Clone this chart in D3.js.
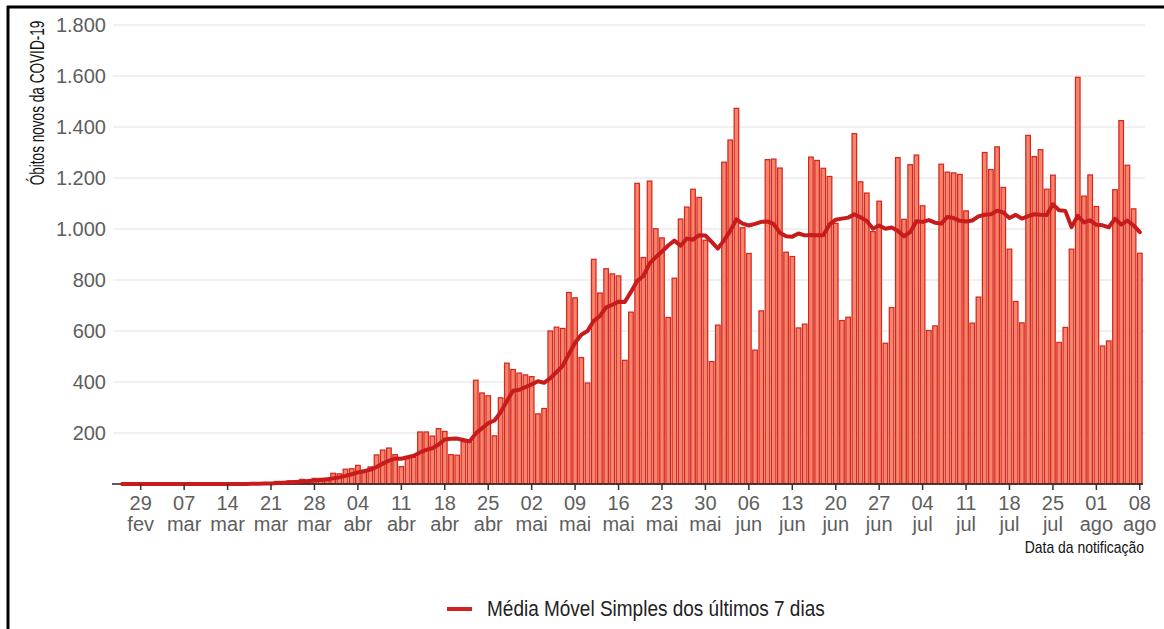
<!DOCTYPE html>
<html>
<head>
<meta charset="utf-8">
<script src="https://cdn.jsdelivr.net/npm/d3@7"></script>
<style>
  html, body { margin: 0; padding: 0; background: #fff; }
  svg { display: block; }
  text { font-family: "Liberation Sans", Arial, sans-serif; }
</style>
</head>
<body>
<svg id="chart" width="1164" height="629"></svg>
<script>
// ---------------- DATA ----------------
const firstDay = "2020-02-26";
const lastDay = "2020-08-08";

// Daily new deaths (Feb 26 .. Aug 8)
const deaths = [
  0,0,0,0, 0,0,0,0,0,0,0,0,0,0,0,0,0,0,0,0,
  1,3,2,5,4,10,9,12,13,18,15,22,22,23,42,
  40,58,60,73,54,67,114,133,141,115,68,99,105,204,204,188,217,206,115,113,166,165,407,357,346,189,338,474,449,435,
  428,421,275,296,600,615,610,751,730,496,396,881,749,844,824,816,485,674,1179,888,1188,1001,965,653,807,1039,1086,1156,1124,956,480,
  623,1262,1349,1473,1005,904,525,679,1272,1274,1239,909,892,612,627,1282,1269,1238,1206,1022,641,654,1374,1185,1141,990,1109,552,692,1280,
  1038,1252,1290,1091,602,620,1254,1223,1220,1214,1071,631,733,1300,1233,1322,1163,921,716,632,1367,1284,1311,1156,1211,555,614,921,1595,1129,1212,
  1088,541,561,1154,1425,1250,1079,905
];

// 7-day simple moving average (Feb 26 .. Aug 8)
const movingAvg = [
  0,0,0,0, 0,0,0,0,0,0,0,0,0,0,0,0,0,0,0,0,
  0.1,0.6,0.9,1.6,2.1,3.6,4.9,6.4,7.9,10.1,11.6,14.1,15.9,17.9,22.1,
  26,31.7,38.1,45.4,50,56.3,66.6,79.9,91.7,99.6,98.9,105.3,110.7,123.6,133.7,140.4,155,174.7,177,178.1,172.7,167.1,198.4,218.4,238.4,249,281.1,325.1,365.7,369.7,
  379.9,390.6,402.9,396.9,414.9,438.6,463.6,509.7,553.9,585.4,599.7,639.9,659,692.4,702.9,715.1,713.6,753.3,795.9,815.7,864.9,890.1,911.4,935.4,954.4,934.4,962.7,958.1,975.7,974.4,949.7,
  923.4,955.3,992.9,1038.1,1021.1,1013.7,1020.1,1028.1,1029.6,1018.9,985.4,971.7,970,982.4,975,976.4,975.7,975.6,1018,1036.6,1040.7,1044.6,1057.7,1045.7,1031.9,1001,1013.4,1000.7,1006.1,992.7,
  971.7,987.6,1030.4,1027.9,1035,1024.7,1021,1047.4,1042.9,1032,1029.1,1033.3,1049.4,1056,1057.4,1072,1064.7,1043.3,1055.4,1041,1050.6,1057.9,1056.3,1055.3,1096.7,1073.7,1071.1,1007.4,1051.9,1025.9,1033.9,
  1016.3,1014.3,1006.7,1040,1017.4,1032.9,1013.9,987.7
];

const tickDates = ["2020-02-29","2020-03-07","2020-03-14","2020-03-21","2020-03-28","2020-04-04","2020-04-11","2020-04-18","2020-04-25","2020-05-02","2020-05-09","2020-05-16","2020-05-23","2020-05-30","2020-06-06","2020-06-13","2020-06-20","2020-06-27","2020-07-04","2020-07-11","2020-07-18","2020-07-25","2020-08-01","2020-08-08"];
const tickDays = ["29","07","14","21","28","04","11","18","25","02","09","16","23","30","06","13","20","27","04","11","18","25","01","08"];
const tickMonths = ["fev","mar","mar","mar","mar","abr","abr","abr","abr","mai","mai","mai","mai","mai","jun","jun","jun","jun","jul","jul","jul","jul","ago","ago"];
const yTicks = [200,400,600,800,1000,1200,1400,1600,1800];

const yTitle = "Óbitos novos da COVID-19";
const xTitle = "Data da notificação";
const legendLabel = "Média Móvel Simples dos últimos 7 dias";

// ---------------- CHART ----------------
const parse = d3.utcParse("%Y-%m-%d");
const fmtKey = d3.utcFormat("%Y-%m-%d");
const days = d3.utcDay.range(parse(firstDay), d3.utcDay.offset(parse(lastDay), 1)).map(fmtKey);
const rows = days.map((d, i) => ({ day: d, deaths: deaths[i], ma: movingAvg[i] }));

const svg = d3.select("#chart");
const W = 1164, H = 629;

const x = d3.scaleBand().domain(days).range([119.3, 1142.6]).paddingInner(0.1).paddingOuter(0);
const y = d3.scaleLinear().domain([0, 1800]).range([484, 25]);

const ptBr = d3.formatLocale({ decimal: ",", thousands: ".", grouping: [3], currency: ["R$", ""] });
const fmtY = ptBr.format(",d");

// frame
svg.append("line").attr("x1", 7).attr("x2", W).attr("y1", 7).attr("y2", 7)
  .attr("stroke", "#000").attr("stroke-width", 3);
svg.append("line").attr("x1", 8).attr("x2", 8).attr("y1", 6).attr("y2", H)
  .attr("stroke", "#000").attr("stroke-width", 3);

// gridlines
svg.append("g").selectAll("line").data(yTicks).join("line")
  .attr("x1", 113).attr("x2", 1145)
  .attr("y1", d => y(d)).attr("y2", d => y(d))
  .attr("stroke", "#ebebeb").attr("stroke-width", 1.3);

// bars
svg.append("g").selectAll("rect").data(rows).join("rect")
  .attr("x", d => x(d.day) + 0.5)
  .attr("width", x.bandwidth() - 1)
  .attr("y", d => y(d.deaths))
  .attr("height", d => y(0) - y(d.deaths))
  .attr("fill", "#f4856b")
  .attr("stroke", "#d8261f")
  .attr("stroke-width", 1.25);

// y axis
const yAxis = svg.append("g").attr("transform", "translate(113,0)")
  .call(d3.axisLeft(y).tickValues(yTicks).tickFormat(fmtY).tickSize(0).tickPadding(7));
yAxis.select(".domain").remove();
yAxis.selectAll("text").attr("font-size", 20).attr("fill", "#5e5e5e")
  .attr("font-family", '"Liberation Sans", Arial, sans-serif');

// x axis line
svg.append("line").attr("x1", 112).attr("x2", 1143).attr("y1", 484).attr("y2", 484)
  .attr("stroke", "#222").attr("stroke-width", 1.3);

// moving average line
const line = d3.line().x(d => x(d.day) + x.bandwidth() / 2).y(d => y(d.ma));
svg.append("path").datum(rows).attr("d", line)
  .attr("fill", "none").attr("stroke", "#c81b1b").attr("stroke-width", 4)
  .attr("stroke-linejoin", "round").attr("stroke-linecap", "round");

// x axis ticks & labels
const xAxis = svg.append("g").attr("transform", "translate(0,484)")
  .call(d3.axisBottom(x).tickValues(tickDates).tickSize(6).tickPadding(0)
    .tickFormat((d, i) => tickDays[i]));
xAxis.select(".domain").remove();
xAxis.selectAll(".tick line").attr("stroke", "#333").attr("stroke-width", 1.5);
xAxis.selectAll(".tick text").each(function (d, i) {
  const t = d3.select(this);
  t.text(null).attr("y", 0).attr("dy", null)
    .attr("font-size", 20).attr("fill", "#5e5e5e")
    .attr("font-family", '"Liberation Sans", Arial, sans-serif');
  t.append("tspan").attr("x", 0).attr("y", 26).text(tickDays[i]);
  t.append("tspan").attr("x", 0).attr("y", 47).text(tickMonths[i]);
});

// axis titles
svg.append("text")
  .attr("transform", "translate(44,103) rotate(-90) scale(0.68,1)")
  .attr("text-anchor", "middle")
  .attr("font-size", 20).attr("fill", "#111")
  .text(yTitle);

svg.append("text")
  .attr("transform", "translate(1144,553) scale(0.9,1.08)")
  .attr("text-anchor", "end")
  .attr("font-size", 15.5).attr("fill", "#111")
  .text(xTitle);

// legend
const lg = svg.append("g");
lg.append("line").attr("x1", 447).attr("x2", 472).attr("y1", 609).attr("y2", 609)
  .attr("stroke", "#d42020").attr("stroke-width", 4);
lg.append("text").attr("transform", "translate(487,616) scale(0.95,1.08)")
  .attr("font-size", 20).attr("fill", "#222")
  .text(legendLabel);
</script>
</body>
</html>
